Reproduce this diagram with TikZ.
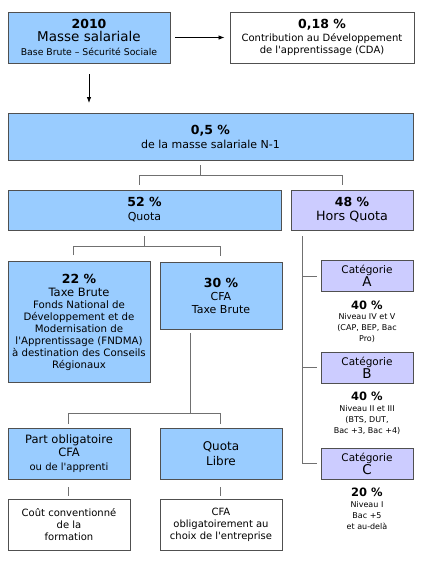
\documentclass[tikz,border=0pt]{standalone}
\usepackage{fontspec}
\setmainfont{DejaVu Sans}
\usepackage{tikz}
\usetikzlibrary{arrows.meta,calc}
\usepackage{xcolor}
\definecolor{quotablue}{HTML}{99CCFF}
\definecolor{horsviolet}{HTML}{CCCCFF}
\definecolor{boxline}{HTML}{505050}
\definecolor{linkgrey}{HTML}{707070}
\newcommand{\pct}[2][12.5]{{\fontsize{#1}{13}\selectfont\bfseries #2}}
\newcommand{\txtsize}[2]{\fontsize{#1}{#2}\selectfont}
\newcommand{\ap}{\textquotesingle}

\begin{document}
\begin{tikzpicture}[x=1pt,y=-1pt,
  box/.style={draw=boxline,line width=0.9pt,align=center,inner sep=0pt},
  bluebox/.style={box,fill=quotablue},
  violetbox/.style={box,fill=horsviolet},
  whitebox/.style={box,fill=white},
  link/.style={draw=linkgrey,line width=0.9pt},
  arrow/.style={draw=black,line width=0.8pt,-{Latex[length=6pt,width=4.5pt]}}]
\useasboundingbox (0,0) rectangle (433,562);
% top row
\node[bluebox,minimum width=162,minimum height=51,font=\txtsize{9.3}{12}] (masse) at (89,37.5)
  {\pct{2010}\\[1pt]{\txtsize{13.5}{15}Masse salariale}\\[1.5pt]Base Brute – Sécurité Sociale};
\node[whitebox,minimum width=184,minimum height=51,font=\txtsize{10}{12}] (cda) at (322,37.5)
  {\pct{0,18 \%}\\[1pt]Contribution au Développement\\de l\ap apprentissage (CDA)};
\draw[arrow,shorten <=5pt,shorten >=5pt] (masse.east) -- (cda.west);
\draw[arrow,shorten <=11pt,shorten >=10pt] (masse.south) -- (masse.south |- 0,113);
% taxe d'apprentissage
\node[bluebox,minimum width=405,minimum height=47,font=\txtsize{11}{14}] (taxe) at (210.5,136.5)
  {\pct{0,5 \%}\\de la masse salariale N-1};
\node[bluebox,minimum width=273,minimum height=40,font=\txtsize{11}{14}] (quota) at (144.5,210)
  {\pct{52 \%}\\Quota};
\node[violetbox,minimum width=122,minimum height=40,font=\txtsize{12.7}{14}] (hors) at (352,210)
  {\pct{48 \%}\\Hors Quota};
\draw[link] ($(taxe.south)+(-10,5)$) -- ++(0,10) coordinate (f1);
\draw[link] ($(quota.north)+(-5,-5)$) |- (f1) -| ($(hors.north)+(-10,-5)$);
% quota
\node[bluebox,minimum width=142,minimum height=121,font=\txtsize{10.2}{12}] (fndma) at (79,322)
  {\pct{22 \%}\\[1pt]{\txtsize{11.5}{13}Taxe Brute}\\Fonds National de\\Développement et de\\Modernisation de\\l\ap Apprentissage (FNDMA)\\à destination des Conseils\\Régionaux};
\node[bluebox,minimum width=122,minimum height=67,font=\txtsize{11}{13}] (cfa) at (221,295.5)
  {\pct{30 \%}\\CFA\\Taxe Brute};
\draw[link] ($(quota.south)+(0,6)$) -- ++(0,10) coordinate (f2);
\draw[link] ($(fndma.north)+(-6,-6)$) |- (f2) -| ($(cfa.north)+(-1,-6)$);
\node[bluebox,minimum width=122,minimum height=51,font=\txtsize{11.5}{13.5}] (oblig) at (69,453.5)
  {Part obligatoire\\CFA\\{\txtsize{10}{12}ou de l\ap apprenti}};
\node[bluebox,minimum width=122,minimum height=51,font=\txtsize{12}{15}] (libre) at (221,453.5)
  {Quota\\Libre};
\draw[link] ($(cfa.south)+(-31,4)$) -- ++(0,80) coordinate (f3);
\draw[link] ($(oblig.north)+(-1,-4)$) |- (f3) -| ($(libre.north)+(-1,-4)$);
\node[whitebox,minimum width=122,minimum height=51,font=\txtsize{10}{12}] (cout) at (69,524.5)
  {Coût conventionné\\de la\\formation};
\node[whitebox,minimum width=122,minimum height=51,font=\txtsize{10}{12}] (choix) at (221,524.5)
  {CFA\\obligatoirement au\\choix de l\ap entreprise};
\draw[link] ($(oblig.south)+(-1,8)$) -- ($(cout.north)+(-1,-3)$);
\draw[link] ($(libre.south)+(-1,8)$) -- ($(choix.north)+(-1,-3)$);
% hors quota
\node[violetbox,minimum width=92,minimum height=31,font=\txtsize{10.5}{12}] (catA) at (367,276)
  {Catégorie\\{\txtsize{13.5}{13}A}};
\node[violetbox,minimum width=92,minimum height=31,font=\txtsize{10.5}{12}] (catB) at (367,367.5)
  {Catégorie\\{\txtsize{13.5}{13}B}};
\node[violetbox,minimum width=92,minimum height=31,font=\txtsize{10.5}{12}] (catC) at (367,463.5)
  {Catégorie\\{\txtsize{13.5}{13}C}};
\node[align=center,anchor=north,inner sep=0pt,font=\txtsize{8}{10.8}] (niveauA) at ($(catA.south)+(0,8.5)$)
  {\pct[11.5]{40 \%}\\Niveau IV et V\\(CAP, BEP, Bac\\Pro)};
\node[align=center,anchor=north,inner sep=0pt,font=\txtsize{8}{10.8}] (niveauB) at ($(catB.south)+(0,8.5)$)
  {\pct[11.5]{40 \%}\\Niveau II et III\\(BTS, DUT,\\Bac +3, Bac +4)};
\node[align=center,anchor=north,inner sep=0pt,font=\txtsize{8}{10.8}] (niveauC) at ($(catC.south)+(0,8.5)$)
  {\pct[11.5]{20 \%}\\Niveau I\\Bac +5\\et au-delà};
\draw[link] ($(hors.south)+(-50,6)$) coordinate (trunk) |- ($(catC.west)+(-4,0)$);
\draw[link] ($(catA.west)+(-4,0)$) -- (trunk |- catA.west);
\draw[link] ($(catB.west)+(-4,0)$) -- (trunk |- catB.west);
\end{tikzpicture}
\end{document}
